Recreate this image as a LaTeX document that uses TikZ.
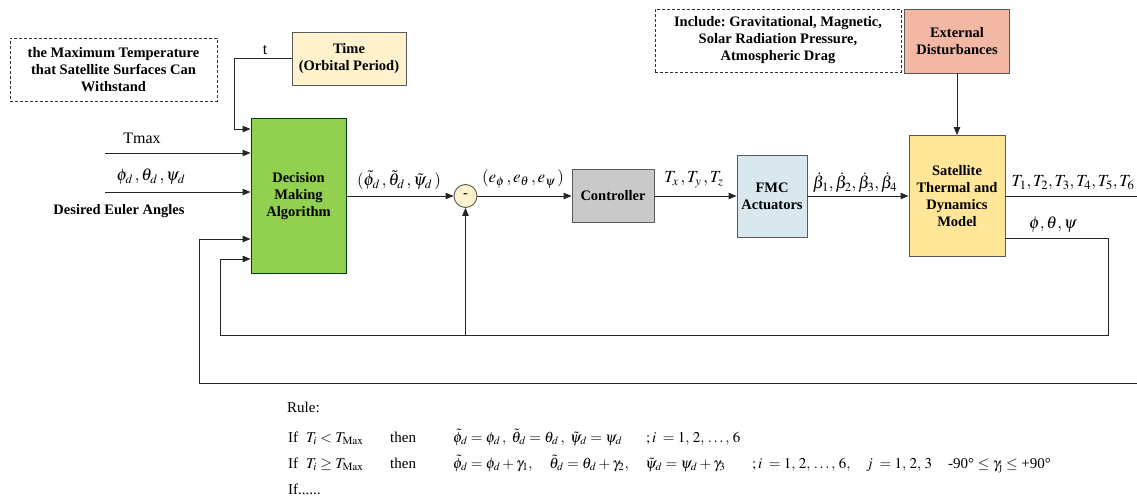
\documentclass[tikz,border=0pt]{standalone}
\usepackage{mathptmx}
\usepackage[no-math]{fontspec}
\setmainfont{Liberation Serif}
\usetikzlibrary{arrows.meta,calc}
\definecolor{cgreen}{HTML}{92D050}
\definecolor{ctime}{HTML}{FFF2CC}
\definecolor{cgray}{HTML}{C9C9C9}
\definecolor{cblue}{HTML}{D9E7EF}
\definecolor{cyellow}{HTML}{FFE699}
\definecolor{csalmon}{HTML}{F2B8A4}
\definecolor{cedge}{HTML}{595959}
\frenchspacing
\begin{document}
\begin{tikzpicture}[x=1pt,y=-1pt,
  box/.style={draw=cedge, line width=0.9pt, font=\fontsize{14.5}{17}\selectfont\bfseries, align=center, inner sep=0pt},
  note/.style={draw=black!80, line width=0.7pt, dash pattern=on 3pt off 2pt, font=\fontsize{14.5}{17}\selectfont\bfseries, align=center, inner sep=0pt},
  arr/.style={-{Triangle[length=8pt,width=6.5pt]}, line width=0.9pt, draw=black!85},
  ln/.style={line width=0.9pt, draw=black!85},
  lab/.style={inner sep=0pt, font=\fontsize{17}{20}\selectfont},
  txt/.style={inner sep=0pt, font=\fontsize{16}{19}\selectfont},
  rule/.style={inner sep=0pt, anchor=base west, font=\fontsize{15}{18}\selectfont}]
\useasboundingbox (0,0) rectangle (1137,502);

% blocks
\node[note, minimum width=207pt, minimum height=63pt] (note1) at (113.5,69.5) {the Maximum Temperature\\that Satellite Surfaces Can\\Withstand};
\node[box, fill=ctime, minimum width=114pt, minimum height=53pt] (time) at (349,58.5) {Time\\(Orbital Period)};
\node[box, fill=cgreen, draw=black!60!green!60!black, minimum width=95pt, minimum height=155pt] (dma) at (298.5,196) {Decision\\Making\\Algorithm};
\node[circle, draw=cedge, line width=0.9pt, fill=ctime, minimum size=23pt, inner sep=0pt, font=\fontsize{14}{14}\selectfont\bfseries] (sum) at (465.5,196) {-};
\node[box, fill=cgray, minimum width=82pt, minimum height=53pt] (ctrl) at (613,196) {Controller};
\node[box, fill=cblue, minimum width=70pt, minimum height=82pt] (fmc) at (772,196) {FMC\\Actuators};
\node[box, fill=cyellow, minimum width=96pt, minimum height=121pt] (sat) at (957,196) {Satellite\\Thermal and\\Dynamics\\Model};
\node[box, fill=csalmon, minimum width=105pt, minimum height=64pt] (ext) at (957,41) {External\\Disturbances};
\node[note, minimum width=246pt, minimum height=63pt] (note2) at (778,40.5) {Include: Gravitational, Magnetic,\\Solar Radiation Pressure,\\Atmospheric Drag};

% free ends
\coordinate (tcorner) at (234,58.5);
\coordinate (tmaxS) at (105,153);
\coordinate (eulS) at (105,192);
\coordinate (Tout) at (1137,196);
\coordinate (fbA) at (1108,238);
\coordinate (fbB) at (1108,335);
\coordinate (fbC) at (220,335);
\coordinate (fbIn) at (220,259);
\coordinate (fbS) at (465.5,335);
\coordinate (obA) at (1137,383);
\coordinate (obB) at (199,383);
\coordinate (obIn) at (199,239);

% connectors
\draw[arr] (time.west) -- (tcorner) |- ($(dma.north west)+(0,11)$);
\draw[arr] (tmaxS) -- (tmaxS -| dma.west);
\draw[arr] (eulS) -- (eulS -| dma.west);
\draw[arr] (dma.east) -- (sum.west);
\draw[arr] (sum.east) -- (ctrl.west);
\draw[arr] (ctrl.east) -- (fmc.west);
\draw[arr] (fmc.east) -- (sat.west);
\draw[arr] (ext.south) -- (sat.north);
\draw[ln] (sat.east) -- (Tout);
\draw[arr] (sat.east |- fbA) -- (fbA) -- (fbB) -- (fbC) -- (fbIn) -- (fbIn -| dma.west);
\draw[arr] (fbS) -- (sum.south);
\draw[arr] (obA) -- (obB) -- (obIn) -- (obIn -| dma.west);

% labels
\node[txt] (lt) at (265,50) {t};
\node[txt] (ltmax) at (142,138) {Tmax};
\node[lab] (leul) at (151,177) {$\phi_d\,,\theta_d\,,\psi_d$};
\node[inner sep=0pt, font=\fontsize{14.5}{17}\selectfont\bfseries] (ldes) at (119,211) {Desired Euler Angles};
\node[lab] (ltil) at (399,180) {$(\tilde\phi_d\,,\tilde\theta_d\,,\tilde\psi_d\,)$};
\node[lab] (lerr) at (523,179) {$(e_\phi\,,e_\theta\,,e_\psi\,)$};
\node[lab] (ltq) at (694,180) {$T_x\,,T_y\,,T_z$};
\node[lab] (lbeta) at (855,183) {$\dot\beta_1,\dot\beta_2,\dot\beta_3,\dot\beta_4$};
\node[lab] (ltemp) at (1073,183) {$T_1,T_2,T_3,T_4,T_5,T_6$};
\node[lab] (lang) at (1053,225) {$\phi,\theta,\psi$};

% rule text
\node[rule] (r0) at (287,412) {Rule:};
\node[rule] (r1a) at (288,442) {If};
\node[rule] (r1b) at (306,442) {$T_i<T_{\mathrm{Max}}$};
\node[rule] (r1c) at (390,442) {then};
\node[rule] (r1d) at (453,442) {$\tilde\phi_d=\phi_d\,,\ \tilde\theta_d=\theta_d\,,\ \tilde\psi_d=\psi_d$};
\node[rule] (r1e) at (646,442) {$;i\;=1,\,2,\,\dots,\,6$};
\node[rule] (r2a) at (288,468) {If};
\node[rule] (r2b) at (306,468) {$T_i\geq T_{\mathrm{Max}}$};
\node[rule] (r2c) at (390,468) {then};
\node[rule] (r2d) at (453,468) {$\tilde\phi_d=\phi_d+\gamma_1,\hspace{1em}\tilde\theta_d=\theta_d+\gamma_2,\hspace{1em}\tilde\psi_d=\psi_d+\gamma_3$};
\node[rule] (r2e) at (752,468) {$;i\;=1,\,2,\,\dots,\,6,$};
\node[rule] (r2f) at (866,468) {$j\;=1,\,2,\,3$};
\node[rule] (r2g) at (948,468) {-90° $\leq\gamma_{\mathrm{j}}\leq$ +90°};
\node[rule] (r3a) at (288,494) {If......};
\end{tikzpicture}
\end{document}
